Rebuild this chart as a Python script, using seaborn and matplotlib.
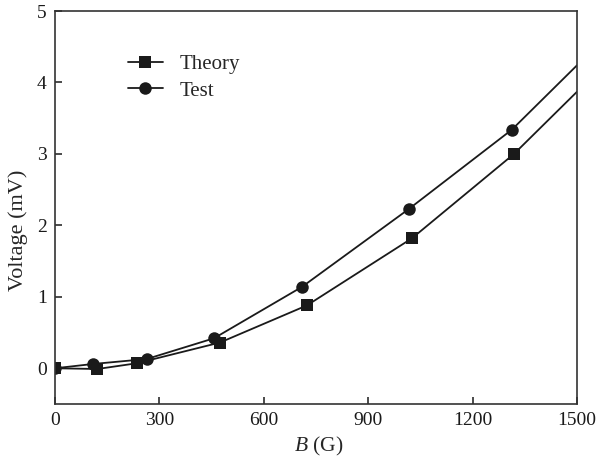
import matplotlib
matplotlib.use("Agg")
import matplotlib.pyplot as plt
import seaborn as sns
import pandas as pd

sns.set_theme(style="ticks")
plt.rcParams['font.family'] = ['Liberation Serif', 'DejaVu Serif']
plt.rcParams['mathtext.fontset'] = 'custom'
plt.rcParams['mathtext.it'] = 'Liberation Serif:italic'
plt.rcParams['mathtext.rm'] = 'Liberation Serif'

theory_b = [0, 122, 235, 474, 724, 1026, 1319, 1500]
theory_v = [0.0, -0.01, 0.07, 0.36, 0.88, 1.82, 3.00, 3.87]
test_b = [0, 109, 264, 457, 710, 1017, 1313, 1500]
test_v = [0.0, 0.06, 0.13, 0.42, 1.14, 2.23, 3.34, 4.24]
x_ticks = [0, 300, 600, 900, 1200, 1500]
y_ticks = [0, 1, 2, 3, 4, 5]

fig = plt.figure(figsize=(5.97, 4.59), dpi=100)
ax = fig.add_axes([55/597, 1-404/459, 522/597, 393/459])

df_theory = pd.DataFrame({"B": theory_b, "V": theory_v})
df_test = pd.DataFrame({"B": test_b, "V": test_v})
marks = list(range(len(theory_b) - 1))

sns.lineplot(data=df_theory, x="B", y="V", ax=ax, color="#1a1a1a", lw=1.3,
             marker="s", markersize=8.7, markevery=marks, markeredgewidth=0,
             label="Theory", sort=False)
sns.lineplot(data=df_test, x="B", y="V", ax=ax, color="#1a1a1a", lw=1.3,
             marker="o", markersize=9, markevery=marks, markeredgewidth=0,
             label="Test", sort=False)

ax.set_xlim(0, 1500)
ax.set_ylim(-0.5, 5)
ax.set_xticks(x_ticks)
ax.set_yticks(y_ticks)
ax.tick_params(direction="in", length=5, width=1.1, labelsize=14, colors="#1a1a1a", pad=6)
for s in ax.spines.values():
    s.set_linewidth(1.2)
    s.set_color("#333333")
ax.set_xlabel(r"$B$ (G)", fontsize=15.5)
ax.set_ylabel("Voltage (mV)", fontsize=16)
ax.xaxis.set_label_coords(0.505, -0.107)
ax.yaxis.set_label_coords(-0.071, 0.443)
ax.yaxis.label.set_verticalalignment("center")
ax.xaxis.label.set_verticalalignment("center")

leg = ax.legend(loc="upper left", bbox_to_anchor=(0.123, 0.910), frameon=False,
                borderaxespad=0, fontsize=15, handlelength=1.68, handletextpad=0.8,
                labelspacing=0.32)

fig.savefig("out.png", dpi=100)
